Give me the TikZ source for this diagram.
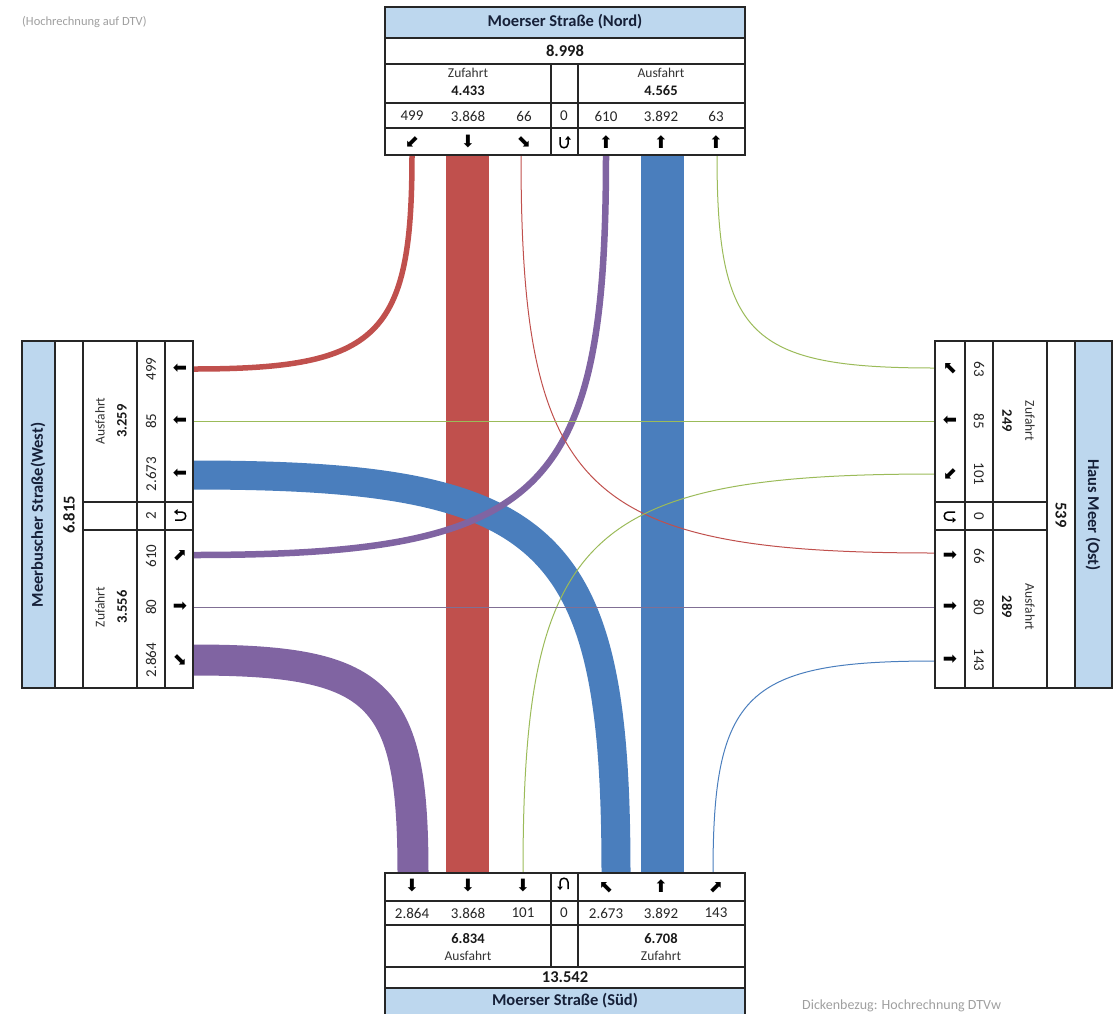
\documentclass[tikz,border=0pt]{standalone}
\usepackage{fontspec}
\setmainfont{Carlito}
\newfontfamily\symfont{DejaVu Sans}
\usetikzlibrary{calc,arrows.meta}

\definecolor{flowred}{RGB}{192,80,77}
\definecolor{flowblue}{RGB}{74,126,189}
\definecolor{flowpurple}{RGB}{128,100,162}
\definecolor{flowgreen}{RGB}{155,187,89}
\definecolor{headblue}{RGB}{189,215,238}
\definecolor{titleink}{RGB}{22,32,56}

\tikzset{
  sweep/.style={to path={.. controls ($(\tikztostart)!0.85!(\tikztostart -| \tikztotarget)$)
      and ($(\tikztotarget)!0.85!(\tikztostart -| \tikztotarget)$) .. (\tikztotarget)}},
}

\begin{document}
\begin{tikzpicture}[x=1pt, y=-1pt,
    frame/.style={draw=black!85, line width=1.3pt},
    head/.style={frame, fill=headblue},
    lbl/.style={inner sep=0pt, text=black!80, font=\fontsize{13.5}{16}\selectfont},
    val/.style={inner sep=0pt, text=black!85, font=\fontsize{15}{17}\selectfont},
    sub/.style={lbl, text=black!90, font=\fontsize{14.5}{16}\selectfont\bfseries},
    total/.style={lbl, text=black!90, font=\fontsize{16.5}{19}\selectfont\bfseries},
    title/.style={inner sep=0pt, text=titleink, font=\fontsize{16.5}{19}\selectfont\bfseries},
    arr/.style={inner sep=0pt, font=\symfont\fontsize{17}{19}\selectfont},
    note/.style={inner sep=0pt, anchor=west, text=gray!75, font=\fontsize{12.5}{15}\selectfont},
    uturn/.style={line width=1.5pt, -{Triangle[length=3.5pt,width=5.5pt]}},
  ]
  \useasboundingbox (0,0) rectangle (1117,1013);

  % Ends of the flows:
  \coordinate (n1) at (412,155); \coordinate (n2) at (467,155); \coordinate (n3) at (521,155);
  \coordinate (n4) at (606,155); \coordinate (n5) at (662,155); \coordinate (n6) at (717,155);
  \coordinate (s1) at (413,873); \coordinate (s2) at (467,873); \coordinate (s3) at (523,873);
  \coordinate (s4) at (616,873); \coordinate (s5) at (662,873); \coordinate (s6) at (713,873);
  \coordinate (w1) at (193,369); \coordinate (w2) at (193,421); \coordinate (w3) at (193,475);
  \coordinate (w4) at (193,555); \coordinate (w5) at (193,607); \coordinate (w6) at (193,660);
  \coordinate (e1) at (935,368); \coordinate (e2) at (935,421); \coordinate (e3) at (935,474);
  \coordinate (e4) at (935,553); \coordinate (e5) at (935,607); \coordinate (e6) at (935,661);

  % Flows:
  \draw[flowred, line width=43pt] (n2) -- (s2);
  \draw[flowblue, line width=43pt] (s5) -- (n5);
  \draw[flowpurple, line width=31pt] (w6) to[sweep] (s1);
  \draw[flowblue, line width=29pt] (w3) to[sweep] (s4);
  \draw[flowred, line width=5.5pt] (w1) to[sweep] (n1);
  \draw[flowpurple, line width=6.5pt] (w4) to[sweep] (n4);
  \draw[flowred, line width=1pt] (e4) to[sweep] (n3);
  \draw[flowgreen, line width=1pt] (e1) to[sweep] (n6);
  \draw[flowgreen, line width=1pt] (e2) -- (w2);
  \draw[flowgreen, line width=1pt] (e3) to[sweep] (s3);
  \draw[flowpurple!60!gray, line width=1pt] (w5) -- (e5);
  \draw[flowblue, line width=1pt] (e6) to[sweep] (s6);

  % Box north:
  \draw[head] (385,7) rectangle (745,38);
  \draw[frame, fill=white] (385,38) rectangle (745,155);
  \draw[frame] (385,64) -- (745,64) (385,103) -- (745,103) (385,128) -- (745,128)
    (551,64) -- (551,155) (578,64) -- (578,155);
  \node[title] (nordT) at (565,22) {Moerser Straße (Nord)};
  \node[total] (nordSum) at (565,51) {8.998};
  \node[lbl] (nordInL) at (468,73) {Zufahrt};
  \node[sub] (nordIn) at (468,91) {4.433};
  \node[lbl] (nordOutL) at (661,73) {Ausfahrt};
  \node[sub] (nordOut) at (661,91) {4.565};
  \node[val] (nv1) at (412,116) {499};
  \node[val] (nv2) at (468,116) {3.868};
  \node[val] (nv3) at (524,116) {66};
  \node[val] (nvU) at (564,116) {0};
  \node[val] (nv4) at (606,116) {610};
  \node[val] (nv5) at (661,116) {3.892};
  \node[val] (nv6) at (716,116) {63};
  \node[arr] (na1) at (412,142) {⬋};
  \node[arr] (na2) at (468,142) {⬇};
  \node[arr] (na3) at (524,142) {⬊};
  \node[arr] (na4) at (606,142) {⬆};
  \node[arr] (na5) at (661,142) {⬆};
  \node[arr] (na6) at (716,142) {⬆};
  \coordinate (naU) at (564,142);
  \draw[uturn] ($(naU)+(-4,-5)$) -- ++(0,7) .. controls +(0,5) and +(0,5) .. ++(8,0) -- ++(0,-8);

  % Box south:
  \draw[frame, fill=white] (385,873) rectangle (745,988);
  \draw[frame] (385,901) -- (745,901) (385,925) -- (745,925) (385,967) -- (745,967)
    (551,873) -- (551,967) (578,873) -- (578,967);
  \draw[head] (385,988) rectangle (745,1016);
  \node[title] (suedT) at (565,1001) {Moerser Straße (Süd)};
  \node[total] (suedSum) at (565,977) {13.542};
  \node[sub] (suedOut) at (468,939) {6.834};
  \node[lbl] (suedOutL) at (468,956) {Ausfahrt};
  \node[sub] (suedIn) at (661,939) {6.708};
  \node[lbl] (suedInL) at (661,956) {Zufahrt};
  \node[val] (sv1) at (412,913) {2.864};
  \node[val] (sv2) at (468,913) {3.868};
  \node[val] (sv3) at (523,913) {101};
  \node[val] (svU) at (564,913) {0};
  \node[val] (sv4) at (606,913) {2.673};
  \node[val] (sv5) at (661,913) {3.892};
  \node[val] (sv6) at (716,913) {143};
  \node[arr] (sa1) at (412,886) {⬇};
  \node[arr] (sa2) at (468,886) {⬇};
  \node[arr] (sa3) at (523,886) {⬇};
  \node[arr] (sa4) at (606,888) {⬉};
  \node[arr] (sa5) at (661,886) {⬆};
  \node[arr] (sa6) at (716,888) {⬈};
  \coordinate (saU) at (564,884);
  \draw[uturn] ($(saU)+(4,5)$) -- ++(0,-7) .. controls +(0,-5) and +(0,-5) .. ++(-8,0) -- ++(0,8);

  % Box west:
  \draw[head] (22,341) rectangle (55,688);
  \draw[frame, fill=white] (55,341) rectangle (193,688);
  \draw[frame] (83,341) -- (83,688) (137,341) -- (137,688) (165,341) -- (165,688)
    (83,502) -- (193,502) (83,530) -- (193,530);
  \node[title, rotate=90] (westT) at (38,515) {Meerbuscher Straße(West)};
  \node[total, rotate=90] (westSum) at (69,515) {6.815};
  \node[lbl, rotate=90] (westOutL) at (100,421) {Ausfahrt};
  \node[sub, rotate=90] (westOut) at (122,421) {3.259};
  \node[lbl, rotate=90] (westInL) at (100,607) {Zufahrt};
  \node[sub, rotate=90] (westIn) at (122,607) {3.556};
  \node[val, rotate=90] (wv1) at (151,369) {499};
  \node[val, rotate=90] (wv2) at (151,421) {85};
  \node[val, rotate=90] (wv3) at (151,474) {2.673};
  \node[val, rotate=90] (wvU) at (151,516) {2};
  \node[val, rotate=90] (wv4) at (151,556) {610};
  \node[val, rotate=90] (wv5) at (151,607) {80};
  \node[val, rotate=90] (wv6) at (151,660) {2.864};
  \node[arr] (wa1) at (180,369) {⬅};
  \node[arr] (wa2) at (180,421) {⬅};
  \node[arr] (wa3) at (180,474) {⬅};
  \node[arr] (wa4) at (180,556) {⬈};
  \node[arr] (wa5) at (180,607) {➡};
  \node[arr] (wa6) at (180,660) {⬊};
  \coordinate (waU) at (180,516);
  \draw[uturn] ($(waU)+(-5,4)$) -- ++(7,0) .. controls +(5,0) and +(5,0) .. ++(0,-8) -- ++(-8,0);

  % Box east:
  \draw[frame, fill=white] (935,341) rectangle (1075,688);
  \draw[frame] (965,341) -- (965,688) (993,341) -- (993,688) (1047,341) -- (1047,688)
    (935,502) -- (1047,502) (935,530) -- (1047,530);
  \draw[head] (1075,341) rectangle (1112,688);
  \node[title, rotate=-90] (ostT) at (1093,515) {Haus Meer (Ost)};
  \node[total, rotate=-90] (ostSum) at (1061,515) {539};
  \node[lbl, rotate=-90] (ostInL) at (1030,421) {Zufahrt};
  \node[sub, rotate=-90] (ostIn) at (1007,421) {249};
  \node[lbl, rotate=-90] (ostOutL) at (1030,607) {Ausfahrt};
  \node[sub, rotate=-90] (ostOut) at (1007,607) {289};
  \node[val, rotate=-90] (ev1) at (979,369) {63};
  \node[val, rotate=-90] (ev2) at (979,421) {85};
  \node[val, rotate=-90] (ev3) at (979,474) {101};
  \node[val, rotate=-90] (evU) at (979,516) {0};
  \node[val, rotate=-90] (ev4) at (979,556) {66};
  \node[val, rotate=-90] (ev5) at (979,607) {80};
  \node[val, rotate=-90] (ev6) at (979,660) {143};
  \node[arr] (ea1) at (950,369) {⬉};
  \node[arr] (ea2) at (950,421) {⬅};
  \node[arr] (ea3) at (950,474) {⬋};
  \node[arr] (ea4) at (950,556) {➡};
  \node[arr] (ea5) at (950,607) {➡};
  \node[arr] (ea6) at (950,660) {➡};
  \coordinate (eaU) at (950,516);
  \draw[uturn] ($(eaU)+(5,-4)$) -- ++(-7,0) .. controls +(-5,0) and +(-5,0) .. ++(0,8) -- ++(8,0);

  % Notes:
  \node[note] (hoch) at (22,22) {(Hochrechnung auf DTV)};
  \node[note, font=\fontsize{14}{16}\selectfont] (dicke) at (802,1006) {Dickenbezug: Hochrechnung DTVw};

\end{tikzpicture}
\end{document}
